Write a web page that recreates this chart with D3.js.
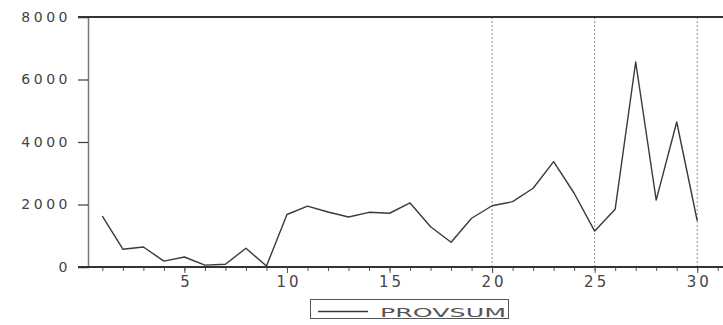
<!DOCTYPE html>
<html><head><meta charset="utf-8">
<script src="https://cdn.jsdelivr.net/npm/d3@7"></script>
<style>body{margin:0;background:#fff}svg{display:block}</style>
</head><body>
<script>
const periods = d3.range(1, 31);
const provsum = [1630, 570, 640, 190, 320, 60, 90, 600, 30, 1680, 1950, 1760, 1600, 1750, 1720, 2050, 1290, 790, 1560, 1960, 2090, 2520, 3370, 2360, 1150, 1850, 6560, 2140, 4640, 1480];
const yTicks = [0, 2000, 4000, 6000, 8000];
const xTicks = [5, 10, 15, 20, 25, 30];
const gridX = [20, 25, 30];
const seriesName = "PROVSUM";

const W = 723, H = 325;
const svg = d3.select("body").append("svg").attr("width", W).attr("height", H);
const x = d3.scaleLinear().domain([0.3, 31.5]).range([88, 728]);
const y = d3.scaleLinear().domain([0, 8000]).range([267, 17]);
const ink = "#3a3a3a";

// vertical dotted grid
svg.selectAll(".grid").data(gridX).join("line")
  .attr("x1", d => x(d)).attr("x2", d => x(d))
  .attr("y1", y(8000)).attr("y2", y(0))
  .attr("stroke", "#8a8a8a").attr("stroke-width", 1).attr("stroke-dasharray", "2,2");

// y axis
const yAxis = svg.append("g").attr("transform", `translate(${x(0.3)},0)`)
  .call(d3.axisLeft(y).tickValues(yTicks).tickSize(10).tickPadding(10).tickFormat(d3.format("d")));
yAxis.select(".domain").attr("stroke", "#777").attr("stroke-width", 1.5);
yAxis.selectAll(".tick line").attr("stroke", ink).attr("stroke-width", 1.2);
yAxis.selectAll("text").attr("font-family", "DejaVu Sans, sans-serif").attr("font-size", 14)
  .attr("fill", "#444").attr("letter-spacing", 3.5).attr("dx", 3);

// top frame
svg.append("line").attr("x1", 78).attr("x2", W).attr("y1", y(8000)).attr("y2", y(8000))
  .attr("stroke", "#333").attr("stroke-width", 2);

// x axis
const xAxis = svg.append("g").attr("transform", `translate(0,${y(0)})`)
  .call(d3.axisBottom(x).tickValues(periods.concat([31])).tickSize(4).tickFormat(""));
xAxis.select(".domain").remove();
xAxis.selectAll(".tick line").attr("stroke", "#555").attr("stroke-width", 1);
svg.append("line").attr("x1", 78).attr("x2", W).attr("y1", y(0)).attr("y2", y(0))
  .attr("stroke", "#333").attr("stroke-width", 2);
const xLab = svg.append("g").attr("transform", `translate(0,${y(0)})`)
  .call(d3.axisBottom(x).tickValues(xTicks).tickSize(6).tickPadding(3).tickFormat(d3.format("d")));
xLab.select(".domain").remove();
xLab.selectAll(".tick line").attr("stroke", "#555");
xLab.selectAll("text").attr("font-family", "DejaVu Sans, sans-serif").attr("font-size", 15)
  .attr("fill", "#444").attr("letter-spacing", 3).attr("dx", 1.5);

// series line
const line = d3.line().x((d, i) => x(periods[i])).y(d => y(d));
svg.append("path").datum(provsum).attr("d", line)
  .attr("fill", "none").attr("stroke", ink).attr("stroke-width", 1.4).attr("stroke-linejoin", "round");

// legend
const lg = svg.append("g");
lg.append("rect").attr("x", 310.5).attr("y", 299.5).attr("width", 198).attr("height", 19)
  .attr("fill", "none").attr("stroke", "#555").attr("stroke-width", 1);
lg.append("line").attr("x1", 318).attr("x2", 368).attr("y1", 311.5).attr("y2", 311.5)
  .attr("stroke", ink).attr("stroke-width", 1.5);
lg.append("text").attr("x", 380).attr("y", 317).text(seriesName)
  .attr("font-family", "DejaVu Sans, sans-serif").attr("font-size", 13)
  .attr("textLength", 126).attr("lengthAdjust", "spacingAndGlyphs")
  .attr("fill", "#555");
</script>
</body></html>
